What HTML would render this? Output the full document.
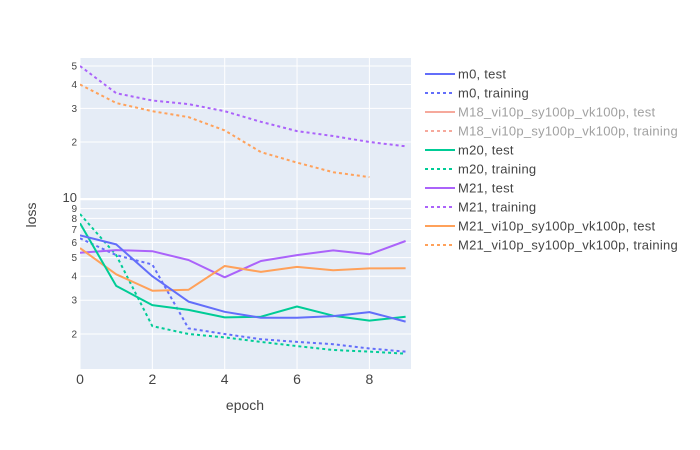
<!DOCTYPE html>
<html><head><meta charset="utf-8"><style>
body{margin:0;background:#fff;font-family:"Liberation Sans",sans-serif}
svg{display:block}
</style></head><body>
<svg id="c" width="700" height="450"></svg>
<script>
const epochs=[0,1,2,3,4,5,6,7,8,9];
const m0Test=[6.53,5.86,4.0,2.95,2.61,2.43,2.43,2.48,2.6,2.32];
const m0Train=[6.3,5.15,4.6,2.14,2.0,1.88,1.82,1.77,1.68,1.62];
const m20Test=[7.55,3.56,2.83,2.67,2.44,2.46,2.78,2.49,2.35,2.46];
const m20Train=[8.43,5.15,2.2,2.0,1.92,1.82,1.73,1.65,1.62,1.58];
const m21Test=[5.3,5.47,5.4,4.86,3.95,4.8,5.15,5.45,5.2,6.1];
const m21Train=[5.0,3.6,3.3,3.16,2.9,2.55,2.28,2.15,2.0,1.9];
const m21viTest=[5.6,4.09,3.36,3.4,4.52,4.21,4.47,4.3,4.39,4.4];
const m21viTrain=[4.0,3.2,2.9,2.7,2.3,1.77,1.56,1.39,1.31];
const xTicks=[0,2,4,6,8];
const topTicks=[2,3,4,5];
const botTicks=[2,3,4,5,6,7,8,9,10];
const legendLabels=["m0, test","m0, training","M18_vi10p_sy100p_vk100p, test","M18_vi10p_sy100p_vk100p, training","m20, test","m20, training","M21, test","M21, training","M21_vi10p_sy100p_vk100p, test","M21_vi10p_sy100p_vk100p, training"];
const legendColors=["#636efa","#636efa","#EF553B","#EF553B","#00cc96","#00cc96","#ab63fa","#ab63fa","#FFA15A","#FFA15A"];

const NS="http://www.w3.org/2000/svg";
const svg=document.getElementById('c');
function mk(t,a,p){const e=document.createElementNS(NS,t);for(const k in a)e.setAttribute(k,a[k]);(p||svg).appendChild(e);return e;}
const X0=80,X1=411,xMin=0,xMax=9.15;
const x=v=>X0+(v-xMin)/(xMax-xMin)*(X1-X0);
const TT=58,TB=198,BT=200,BB=369;
const yTop=v=>142-191*Math.log10(v/2);
const yBot=v=>334-192*Math.log10(v/2);

const bg1=mk('rect',{x:X0,y:TT,width:X1-X0,height:TB-TT,fill:'#e5ecf6'});


const bg2=mk('rect',{x:X0,y:BT,width:X1-X0,height:BB-BT,fill:'#e5ecf6'});



xTicks.forEach(t=>{
  [[TT,TB],[BT,BB]].forEach(r=>{
    const g=mk('line',{x1:x(t),x2:x(t),y1:r[0],y2:r[1],stroke:'#fff','stroke-width':1});
    
    
  });
  const l=mk('text',{x:x(t),y:384,'text-anchor':'middle','font-size':14,fill:'#444'});
  l.textContent=t;
  
  
});
topTicks.forEach(t=>{
  const g=mk('line',{x1:X0,x2:X1,y1:yTop(t),y2:yTop(t),stroke:'#fff','stroke-width':1});
  
  
  const l=mk('text',{x:77,y:yTop(t)+3.5,'text-anchor':'end','font-size':10,fill:'#444'});
  l.textContent=t;
  
  
});
botTicks.forEach(t=>{
  const g=mk('line',{x1:X0,x2:X1,y1:yBot(t),y2:yBot(t),stroke:'#fff','stroke-width':1});
  
  
  const l=mk('text',{x:77,y:yBot(t)+(t===10?2:3.5),'text-anchor':'end','font-size':t===10?13:10,fill:'#444'});
  l.textContent=t;
  
  
});

const clipT=mk('clipPath',{id:'ct'});mk('rect',{x:X0,y:TT,width:X1-X0,height:TB-TT},clipT);
const clipB=mk('clipPath',{id:'cb'});mk('rect',{x:X0,y:BT,width:X1-X0,height:BB-BT},clipB);

function line(vals,yf,color,dot,clip,name){
  const d=vals.map((v,i)=>(i?'L':'M')+x(epochs[i]).toFixed(1)+','+yf(v).toFixed(1)).join('');
  const p=mk('path',{d:d,fill:'none',stroke:color,'stroke-width':2,'stroke-dasharray':dot?'3,3':'none','clip-path':'url(#'+clip+')','stroke-linejoin':'round'});
  
  
}
line(m21Train,yTop,'#ab63fa',true,'ct','m21-training-line');
line(m21viTrain,yTop,'#FFA15A',true,'ct','m21vi-training-line');
line(m0Train,yBot,'#636efa',true,'cb','m0-training-line');
line(m20Train,yBot,'#00cc96',true,'cb','m20-training-line');
line(m21Test,yBot,'#ab63fa',false,'cb','m21-test-line');
line(m21viTest,yBot,'#FFA15A',false,'cb','m21vi-test-line');
line(m20Test,yBot,'#00cc96',false,'cb','m20-test-line');
line(m0Test,yBot,'#636efa',false,'cb','m0-test-line');

const xt=mk('text',{x:245,y:410,'text-anchor':'middle','font-size':14,fill:'#444'});
xt.textContent='epoch';


const yt=mk('text',{x:0,y:0,'text-anchor':'middle','font-size':14,fill:'#444',transform:'translate(36,215) rotate(-90)'});
yt.textContent='loss';



legendLabels.forEach((lab,i)=>{
  const y=74+i*19;
  const g=mk('g',{opacity:(i===2||i===3)?0.5:1});
  
  
  mk('line',{x1:425,x2:455,y1:y,y2:y,stroke:legendColors[i],'stroke-width':2,'stroke-dasharray':i%2?'3,3':'none'},g);
  const t=mk('text',{x:458,y:y+4.5,'font-size':13,'letter-spacing':'0.25',fill:'#444'},g);
  t.textContent=lab;
});
</script>
</body></html>
